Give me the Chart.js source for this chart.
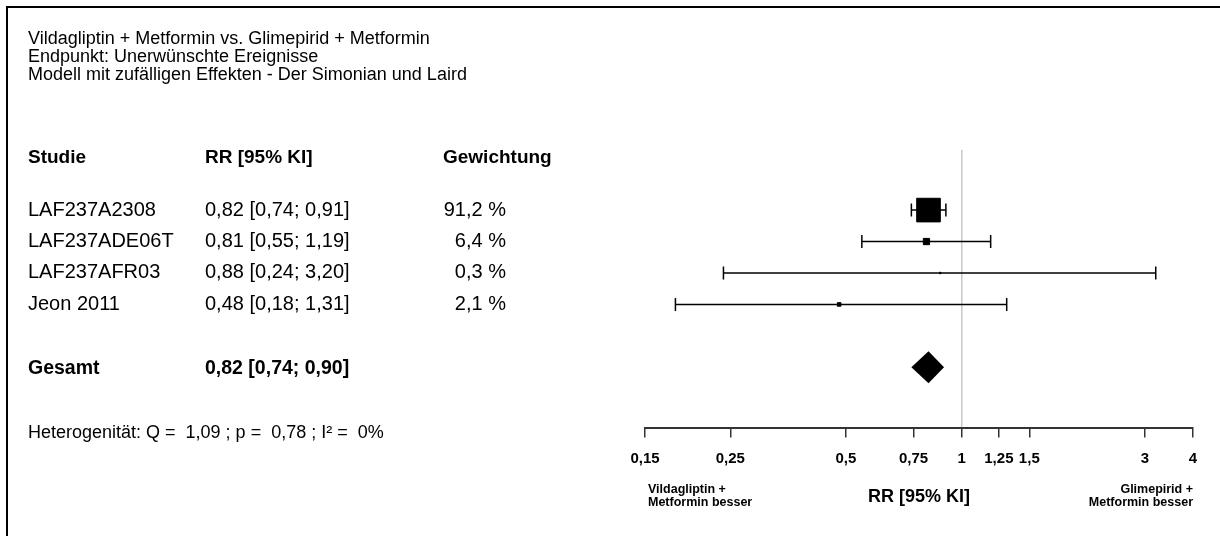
<!DOCTYPE html>
<html>
<head>
<meta charset="utf-8">
<title>Forest-Plot: Unerwünschte Ereignisse</title>
<script src="https://cdn.jsdelivr.net/npm/chart.js@4/dist/chart.umd.min.js"></script>
<style>
  html, body { margin: 0; padding: 0; background: #fff; overflow: hidden; }
  #wrap { position: relative; width: 1220px; height: 536px; }
  #plot { position: absolute; left: 0; top: 0; }
  #frame { position: absolute; left: 6px; top: 6px; width: 1400px; height: 700px;
           border-left: 2px solid #000; border-top: 2px solid #000; pointer-events: none; }
</style>
</head>
<body>
<div id="wrap">
  <canvas id="plot" width="1220" height="536"></canvas>
  <div id="frame"></div>
</div>
<script>
// ---- Daten ----
const titleLines = [
  'Vildagliptin + Metformin vs. Glimepirid + Metformin',
  'Endpunkt: Unerwünschte Ereignisse',
  'Modell mit zufälligen Effekten - Der Simonian und Laird'
];
const columnHeaders = ['Studie', 'RR [95% KI]', 'Gewichtung'];
const studies  = ['LAF237A2308', 'LAF237ADE06T', 'LAF237AFR03', 'Jeon 2011'];
const rr       = [0.82, 0.81, 0.88, 0.48];
const ciLow    = [0.74, 0.55, 0.24, 0.18];
const ciHigh   = [0.91, 1.19, 3.20, 1.31];
const weights  = [91.2, 6.4, 0.3, 2.1];
const pooledLabel = 'Gesamt';
const pooledRR   = 0.82;
const pooledLow  = 0.74;
const pooledHigh = 0.90;
const heterogeneity = { Q: 1.09, p: 0.78, I2: 0 };
const xTicks = [0.15, 0.25, 0.5, 0.75, 1, 1.25, 1.5, 3, 4];
const axisTitle = 'RR [95% KI]';
const favoursLeft  = ['Vildagliptin +', 'Metformin besser'];
const favoursRight = ['Glimepirid +', 'Metformin besser'];

// ---- Layout ----
const FONT = '"Liberation Sans", Arial, Helvetica, sans-serif';
const HEADER_ROW = -0.66;      // Zeile der Spaltenköpfe (Einheiten der y-Achse)
const POOLED_ROW = studies.length + 2;
const COL_X = { study: 28, rr: 205, weightRight: 506, weightHead: 443 };

const fmt2 = v => v.toFixed(2).replace('.', ',');
const fmtCI = (e, l, h) => `${fmt2(e)} [${fmt2(l)}; ${fmt2(h)}]`;
const fmtWeight = w => w.toFixed(1).replace('.', ',') + ' %';
const fmtTick = v => String(v).replace('.', ',');

Chart.defaults.font.family = FONT;

// Konfidenzintervalle als Linien mit senkrechten Endstrichen
const ciDatasets = studies.map((s, i) => ({
  label: s + ' KI',
  data: [{ x: ciLow[i], y: i + 1 }, { x: ciHigh[i], y: i + 1 }],
  showLine: true,
  borderColor: '#000',
  borderWidth: 1.5,
  pointStyle: 'line',
  pointRotation: 90,
  pointRadius: 6.5,
  pointBorderColor: '#000',
  pointBorderWidth: 1.5,
  order: 1
}));

// Punktschätzer, Quadratgröße nach Gewichtung
const estimateDataset = {
  label: 'RR',
  data: rr.map((v, i) => ({ x: v, y: i + 1 })),
  showLine: false,
  pointStyle: 'rect',
  pointRadius: weights.map(w => Math.max(1, 1.75 * Math.sqrt(w))),
  backgroundColor: '#000',
  borderColor: '#000',
  borderWidth: 1,
  order: 0
};

// Raute für den gepoolten Schätzer
const diamondPlugin = {
  id: 'pooledDiamond',
  afterDatasetsDraw(chart) {
    const { ctx, scales: { x, y } } = chart;
    const yc = y.getPixelForValue(POOLED_ROW);
    const half = 16;
    ctx.save();
    ctx.fillStyle = '#000';
    ctx.beginPath();
    ctx.moveTo(x.getPixelForValue(pooledLow), yc);
    ctx.lineTo(x.getPixelForValue(pooledRR), yc - half);
    ctx.lineTo(x.getPixelForValue(pooledHigh), yc);
    ctx.lineTo(x.getPixelForValue(pooledRR), yc + half);
    ctx.closePath();
    ctx.fill();
    ctx.restore();
  }
};

// Tabelle links, Überschrift und Beschriftung unter der Achse
const tablePlugin = {
  id: 'forestTable',
  afterDraw(chart) {
    const { ctx, scales: { x, y } } = chart;
    const regular = s => `${s}px ${FONT}`;
    const bold = s => `bold ${s}px ${FONT}`;
    ctx.save();
    ctx.fillStyle = '#000';
    ctx.textBaseline = 'middle';

    ctx.font = regular(18);
    ctx.textAlign = 'left';
    titleLines.forEach((t, i) => ctx.fillText(t, COL_X.study, 39 + i * 18));

    const yh = y.getPixelForValue(HEADER_ROW);
    ctx.font = bold(19);
    ctx.fillText(columnHeaders[0], COL_X.study, yh);
    ctx.fillText(columnHeaders[1], COL_X.rr, yh);
    ctx.fillText(columnHeaders[2], COL_X.weightHead, yh);

    ctx.font = regular(20);
    studies.forEach((s, i) => {
      const yr = y.getPixelForValue(i + 1);
      ctx.textAlign = 'left';
      ctx.fillText(s, COL_X.study, yr);
      ctx.fillText(fmtCI(rr[i], ciLow[i], ciHigh[i]), COL_X.rr, yr);
      ctx.textAlign = 'right';
      ctx.fillText(fmtWeight(weights[i]), COL_X.weightRight, yr);
    });

    const yp = y.getPixelForValue(POOLED_ROW) + 1;
    ctx.font = bold(19.5);
    ctx.textAlign = 'left';
    ctx.fillText(pooledLabel, COL_X.study, yp);
    ctx.fillText(fmtCI(pooledRR, pooledLow, pooledHigh), COL_X.rr, yp);

    ctx.font = regular(18);
    const het = `Heterogenität: Q =  ${fmt2(heterogeneity.Q)} ; p =  ${fmt2(heterogeneity.p)} ; I² =  ${heterogeneity.I2}%`;
    ctx.fillText(het, COL_X.study, 433);

    ctx.font = bold(12.5);
    const xl = x.getPixelForValue(x.min) + 3;
    const xr = x.getPixelForValue(x.max);
    favoursLeft.forEach((t, i) => { ctx.textAlign = 'left'; ctx.fillText(t, xl, 490 + i * 13); });
    favoursRight.forEach((t, i) => { ctx.textAlign = 'right'; ctx.fillText(t, xr, 490 + i * 13); });
    ctx.restore();
  }
};

new Chart(document.getElementById('plot'), {
  type: 'scatter',
  data: { datasets: [estimateDataset, ...ciDatasets] },
  options: {
    responsive: false,
    animation: false,
    layout: { padding: { left: 645, right: 27, top: 150, bottom: 28 } },
    plugins: { legend: { display: false }, tooltip: { enabled: false } },
    scales: {
      x: {
        type: 'logarithmic',
        min: xTicks[0],
        max: xTicks[xTicks.length - 1],
        afterBuildTicks: s => { s.ticks = xTicks.map(v => ({ value: v })); },
        ticks: {
          autoSkip: false, maxRotation: 0, padding: 12, color: '#000',
          font: { size: 15, weight: 'bold' },
          callback: v => fmtTick(v)
        },
        grid: {
          drawOnChartArea: true,
          color: c => (c.tick && c.tick.value === 1) ? '#c8c8c8' : 'rgba(0,0,0,0)',
          lineWidth: 1.5,
          tickLength: 9,
          tickColor: '#333',
          tickWidth: 1.5
        },
        border: { display: true, color: '#333', width: 2 },
        title: {
          display: true, text: axisTitle, color: '#000',
          font: { size: 18, weight: 'bold' },
          padding: { top: 7, bottom: 0 }
        }
      },
      y: { type: 'linear', reverse: true, min: -0.911, max: 7.943, display: false }
    }
  },
  plugins: [diamondPlugin, tablePlugin]
});
</script>
</body>
</html>
